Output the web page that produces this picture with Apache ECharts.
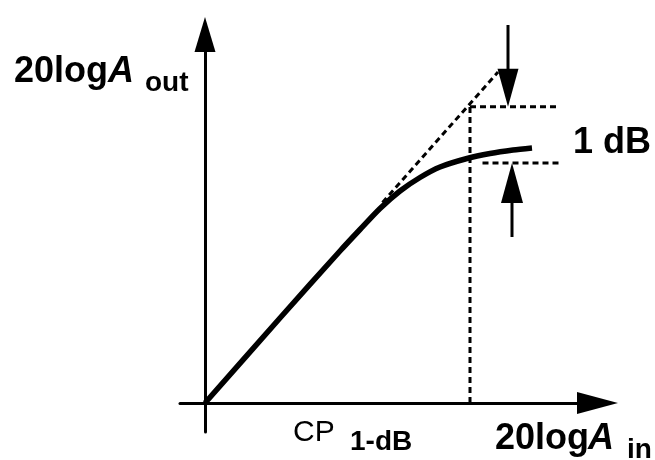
<!DOCTYPE html>
<html>
<head>
<meta charset="utf-8">
<script src="https://cdn.jsdelivr.net/npm/echarts@6/dist/echarts.min.js"></script>
<style>
html,body{margin:0;padding:0;background:#fff}
#c{width:655px;height:460px}
</style>
</head>
<body>
<div id="c"></div>
<script>
// Output curve (20logAout vs 20logAin), in arbitrary dB units
const curveX = [0, 3, 5.4, 6.2, 7.0, 7.8, 8.6, 9.4, 10.48, 11.4, 12.32, 13.08];
const curveY = [0, 3.4, 6.08, 6.94, 7.78, 8.48, 9.02, 9.44, 9.78, 9.98, 10.12, 10.2];
// Ideal linear extrapolation (dashed)
const extrapX = [7.1, 11.72];
const extrapY = [8.02, 13.24];
// 1-dB compression point
const cpX = [10.6];
const idealAtCp = [11.85];
const actualAtCp = [9.6];
const refLineEndX = [14.2];
const lowerLineStartX = [11.1];
// 1 dB marker arrows: [x, tail y, tip y]
const arrowDown = [12.12, 15.12, 11.85];
const arrowUp = [12.28, 6.64, 9.6];
// Axis ranges
const xRange = [-1, 15.7];
const yRange = [-1.16, 14.74];
// Text labels
const yLabel = ['20log', 'A', 'out'];
const xLabel = ['20log', 'A', 'in'];
const cpLabel = ['CP', '1-dB'];
const dbLabel = '1 dB';

const chart = echarts.init(document.getElementById('c'), null, {renderer: 'canvas'});
const F = '"Liberation Sans", Arial, sans-serif';
const dash = {color: '#000', width: 3, type: [6, 4]};
const axisBase = {
  type: 'value',
  axisTick: {show: false},
  axisLabel: {show: false},
  splitLine: {show: false}
};
const lineSeries = (data, style, z) => ({
  type: 'line', data: data, symbol: 'none', clip: false, silent: true,
  lineStyle: style, z: z || 2, animation: false
});
// text placed by its baseline (middle-aligned, shifted by ~0.35em)
const txt = (s, x, base, size, style) => ({
  type: 'text', x: x, y: base - 0.35 * size,
  style: {text: s, font: (style || '') + ' ' + size + 'px ' + F, fill: '#000', verticalAlign: 'middle', align: 'left'}
});

chart.setOption({
  animation: false,
  backgroundColor: '#fff',
  grid: {left: 180, right: 57.5, top: 34.5, bottom: 28, containLabel: false, outerBoundsMode: 'none'},
  xAxis: Object.assign({}, axisBase, {
    min: xRange[0], max: xRange[1],
    axisLine: {onZero: true, lineStyle: {color: '#000', width: 3}, symbol: ['none', 'triangle'], symbolSize: [22, 41]}
  }),
  yAxis: Object.assign({}, axisBase, {
    min: yRange[0], max: yRange[1],
    axisLine: {onZero: true, lineStyle: {color: '#000', width: 3}, symbol: ['none', 'triangle'], symbolSize: [21, 35]}
  }),
  series: [
    Object.assign(lineSeries(curveX.map((x, i) => [x, curveY[i]]), {color: '#000', width: 5.5, cap: 'butt'}, 5), {smooth: 0.25}),
    lineSeries(extrapX.map((x, i) => [x, extrapY[i]]), dash),
    lineSeries([[cpX[0], 0], [cpX[0], idealAtCp[0]]], dash),
    lineSeries([[cpX[0], idealAtCp[0]], [refLineEndX[0], idealAtCp[0]]], dash),
    lineSeries([[lowerLineStartX[0], actualAtCp[0]], [refLineEndX[0], actualAtCp[0]]], dash),
    lineSeries([[arrowDown[0], arrowDown[1]], [arrowDown[0], arrowDown[2] + 1]], {color: '#000', width: 3}),
    lineSeries([[arrowUp[0], arrowUp[1]], [arrowUp[0], arrowUp[2] - 1]], {color: '#000', width: 3}),
    {
      type: 'scatter', clip: false, silent: true, animation: false,
      itemStyle: {color: '#000', opacity: 1},
      data: [
        {value: [arrowDown[0], arrowDown[2]], symbol: 'triangle', symbolSize: [21, 38], symbolRotate: 180, symbolOffset: [0, -19]},
        {value: [arrowUp[0], arrowUp[2]], symbol: 'triangle', symbolSize: [22, 40], symbolOffset: [0, 20]}
      ]
    }
  ],
  graphic: [
    txt(yLabel[0], 14, 85, 36, 'bold'),
    txt(yLabel[1], 108, 85, 36, 'italic bold'),
    txt(yLabel[2], 145, 93, 28, 'bold'),
    txt(xLabel[0], 495, 452, 36, 'bold'),
    txt(xLabel[1], 588, 452, 36, 'italic bold'),
    txt(xLabel[2], 627, 460, 28, 'bold'),
    txt(cpLabel[0], 293, 443, 30, ''),
    txt(cpLabel[1], 350, 452, 28, 'bold'),
    txt(dbLabel, 573, 156, 36, 'bold')
  ]
});
</script>
</body>
</html>
